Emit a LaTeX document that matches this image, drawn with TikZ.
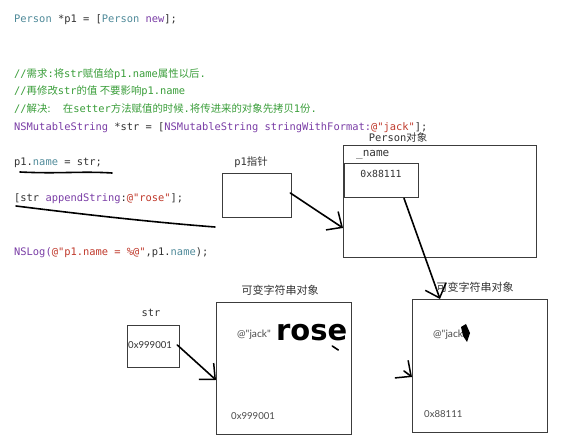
\documentclass[tikz,border=0pt]{standalone}
\usepackage{fontspec}
\usepackage{xcolor}
\usetikzlibrary{arrows.meta}
\setmainfont{DejaVu Sans}
\newfontfamily\codefont{DejaVu Sans Mono}
\newfontfamily\cjk{Noto Sans CJK SC}
\newfontfamily\thinfont{Lato}
\definecolor{TypeTeal}{HTML}{4F8A99}
\definecolor{MsgPurple}{HTML}{7A3DA6}
\definecolor{LitRed}{HTML}{C0392B}
\definecolor{NoteGreen}{HTML}{3A9E3A}
\definecolor{InkGray}{HTML}{333333}
\definecolor{BoxGray}{HTML}{3C3C3C}

\begin{document}
\begin{tikzpicture}[x=1pt,y=-1pt]
    \tikzset{
      codeline/.style={anchor=west,inner sep=0pt,text=InkGray,
          font=\codefont\fontsize{10.4}{12}\selectfont},
      notetext/.style={codeline,text=NoteGreen},
      membox/.style={draw=BoxGray,line width=1.3pt,anchor=north west,inner sep=0pt},
      tag/.style={inner sep=0pt,text=InkGray,font=\codefont\fontsize{10.4}{12}\selectfont},
      cjktag/.style={inner sep=0pt,text=InkGray,font=\cjk\fontsize{11}{13}\selectfont},
      addr/.style={inner sep=0pt,anchor=west,text=black!70,font=\thinfont\fontsize{9.6}{11}\selectfont},
      pen/.style={line width=1.6pt,black,line cap=round,line join=round},
      penarrow/.style={pen,-{Straight Barb[length=12pt,width=22pt,line width=1.5pt]}}
    }
    \useasboundingbox (0,0) rectangle (563,443);
    \fill[white] (0,0) rectangle (563,443);

    % code listing
    \node[codeline] (line1) at (14,20)
      {\textcolor{TypeTeal}{Person} *p1 = [\textcolor{TypeTeal}{Person} \textcolor{MsgPurple}{new}];};
    \node[notetext] (note1) at (14,74)
      {//{\cjk 需求}:{\cjk 将}str{\cjk 赋值给}p1.name{\cjk 属性以后}.};
    \node[notetext] (note2) at (14,91)
      {//{\cjk 再修改}str{\cjk 的值 不要影响}p1.name};
    \node[notetext] (note3) at (14,109)
      {//{\cjk 解决:}\ \ {\cjk 在}setter{\cjk 方法赋值的时候}.{\cjk 将传进来的对象先拷贝}1{\cjk 份}.};
    \node[codeline,text=MsgPurple] (line2) at (14,128)
      {NSMutableString {\color{InkGray}*str = [}NSMutableString stringWithFormat:{\color{LitRed}@"jack"}{\color{InkGray}];}};
    \node[codeline] (line3) at (14,163)
      {p1.\textcolor{TypeTeal}{name} = str;};
    \node[codeline] (line4) at (14,199)
      {[str \textcolor{MsgPurple}{appendString}:\textcolor{LitRed}{@"rose"}];};
    \node[codeline,text=MsgPurple] (line5) at (14,253)
      {NSLog({\color{LitRed}@"p1.name = \%@"}{\color{InkGray},p1.}{\color{TypeTeal}name}{\color{InkGray});}};

    % hand-drawn marks under the code
    \draw[pen] (20,172) .. controls (60,174) and (80,171) .. (112,173);
    \draw[pen] (16,206) .. controls (80,214) and (150,222) .. (215,227);

    % p1 pointer
    \node[membox,minimum width=69pt,minimum height=44pt] (p1box) at (222,173) {};
    \node[tag,font=\codefont\fontsize{10.4}{12}\selectfont] (p1label) at (251,162)
      {p1{\cjk 指针}};

    % Person object
    \node[membox,minimum width=193pt,minimum height=112pt] (person) at (343,145) {};
    \node[tag] (personlabel) at (398,138) {Person{\cjk 对象}};
    \node[tag,anchor=west,font=\codefont\fontsize{11}{13}\selectfont] (namefield) at (356,155) {\_name};
    \node[membox,minimum width=74pt,minimum height=34pt] (namebox) at (344,163) {};
    \node[tag,font=\codefont\fontsize{9.8}{12}\selectfont] (nameaddr) at (381,174) {0x88111};

    % str pointer
    \node[membox,minimum width=52pt,minimum height=42pt] (strbox) at (127,325) {};
    \node[tag] (strlabel) at (151,313) {str};
    \node[addr,text=black!80] (straddr) at (128,345) {0x999001};

    % mutable string object
    \node[membox,minimum width=135pt,minimum height=132pt] (mstr) at (216,302) {};
    \node[cjktag] (mstrlabel) at (280,290) {可变字符串对象};
    \node[addr,font=\thinfont\fontsize{10.2}{12}\selectfont] (mstrjack) at (237,335) {@"jack"};
    \node[inner sep=0pt,anchor=west,font=\bfseries\fontsize{29}{32}\selectfont] (rose) at (276,333) {rose};
    \node[addr] (mstraddr) at (231,416) {0x999001};

    % copied string object
    \node[membox,minimum width=135pt,minimum height=133pt] (copy) at (412,299) {};
    \node[cjktag] (copylabel) at (475,287) {可变字符串对象};
    \node[addr,font=\thinfont\fontsize{10.2}{12}\selectfont] (copyjack) at (433,335) {@"jack"};
    \node[addr] (copyaddr) at (424,414) {0x88111};
    \fill[black] (461,327) -- (466,324) -- (470,333) -- (467,342) -- (463,336) -- cycle;

    % pointers
    \draw[penarrow] ([xshift=-2pt,yshift=-20pt]p1box.north east) -- ([yshift=-83pt]person.north west);
    \draw[penarrow] ([xshift=60pt]namebox.south west) -- ([xshift=28pt]copy.north west);
    \draw[penarrow] ([xshift=-3pt,yshift=-20pt]strbox.north east) -- ([yshift=-78pt]mstr.north west);
    \coordinate (stub) at (404,371);
    \draw[penarrow] (stub) -- ([yshift=-78pt]copy.north west);
    \draw[pen] ([xshift=-20pt,yshift=-44pt]mstr.north east) -- ([xshift=-14pt,yshift=-48pt]mstr.north east);
  \end{tikzpicture}
\end{document}
